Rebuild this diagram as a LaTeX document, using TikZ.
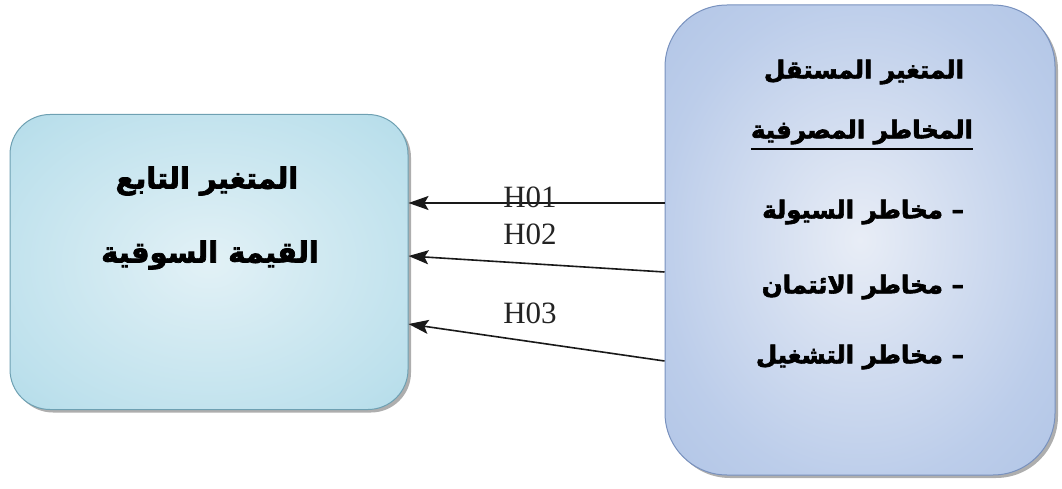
\documentclass[tikz,border=0pt]{standalone}
\usepackage{fontspec}
\setmainfont{Liberation Serif}
\newfontfamily\arabicfont[Script=Arabic,BoldFont={DejaVu Sans Bold},BoldFeatures={FakeBold=2.5}]{DejaVu Sans}
\TeXXeTstate=1
\usetikzlibrary{arrows.meta,shadows}
\definecolor{lbOuter}{RGB}{128,192,212}
\definecolor{lbMid}{RGB}{188,224,236}
\definecolor{lbInner}{RGB}{226,241,246}
\definecolor{lbEdge}{RGB}{110,160,178}
\definecolor{rbOuter}{RGB}{138,168,214}
\definecolor{rbMid}{RGB}{188,205,234}
\definecolor{rbInner}{RGB}{232,237,246}
\definecolor{rbEdge}{RGB}{120,145,190}
\definecolor{hcol}{RGB}{35,35,35}
\pgfdeclareradialshading{lbshade}{\pgfpoint{0bp}{0bp}}{color(0bp)=(lbInner); color(30bp)=(lbMid); color(72bp)=(lbOuter)}
\pgfdeclareradialshading{rbshade}{\pgfpoint{0bp}{0bp}}{color(0bp)=(rbInner); color(26bp)=(rbMid); color(72bp)=(rbOuter)}
\tikzset{
  boxL/.style={rounded corners=40pt, draw=lbEdge, line width=1pt,
    shading=lbshade,
    drop shadow={shadow xshift=3pt, shadow yshift=-3pt, opacity=0.45, fill=black!70}},
  boxR/.style={rounded corners=62pt, draw=rbEdge, line width=1pt,
    shading=rbshade,
    drop shadow={shadow xshift=3pt, shadow yshift=-3pt, opacity=0.45, fill=black!70}},
  artxtL/.style={font=\arabicfont\bfseries\fontsize{29}{32}\selectfont, inner sep=0pt},
  artxtR/.style={font=\arabicfont\bfseries\fontsize{24.5}{28}\selectfont, inner sep=0pt},
  hlab/.style={font=\fontsize{31}{33}\selectfont, text=hcol, inner sep=0pt},
  arr/.style={-{Stealth[length=20pt,width=14pt,inset=4pt]}, line width=1.6pt, draw=black!90}
}
\begin{document}
\begin{tikzpicture}[x=1pt,y=-1pt]
\useasboundingbox (0,0) rectangle (1062,489);
% boxes
\node[boxL, minimum width=398pt, minimum height=295pt] (L) at (209,262) {};
\node[boxR, minimum width=390pt, minimum height=470pt] (R) at (860,240) {};
% left texts
\node[artxtL] (l1) at (207,181) {\beginR المتغير التابع\endR};
\node[artxtL] (l2) at (210,255) {\beginR القيمة السوقية\endR};
% right texts
\node[artxtR] (r1) at (864,72) {\beginR المتغير المستقل\endR};
\node[artxtR] (r2) at (862,132) {\beginR المخاطر المصرفية\endR};
\draw[line width=2pt] ([yshift=-5pt]r2.south west) -- ([yshift=-5pt]r2.south east);
\node[artxtR, anchor=east] (r3) at (964,212) {\beginR – مخاطر السيولة\endR};
\node[artxtR, anchor=east] (r4) at (964,287) {\beginR – مخاطر الائتمان\endR};
\node[artxtR, anchor=east] (r5) at (964,357) {\beginR – مخاطر التشغيل\endR};
% connectors
\coordinate (s1) at (0,203);
\coordinate (t1) at (0,203);
\coordinate (s2) at (0,272);
\coordinate (t2) at (0,256);
\coordinate (s3) at (0,361);
\coordinate (t3) at (0,324);
\draw[arr] (R.west |- s1) -- (L.east |- t1);
\draw[arr] (R.west |- s2) -- (L.east |- t2);
\draw[arr] (R.west |- s3) -- (L.east |- t3);
% labels
\node[hlab] (h1) at (530,197) {H01};
\node[hlab] (h2) at (530,234) {H02};
\node[hlab] (h3) at (530,313) {H03};
\end{tikzpicture}
\end{document}
